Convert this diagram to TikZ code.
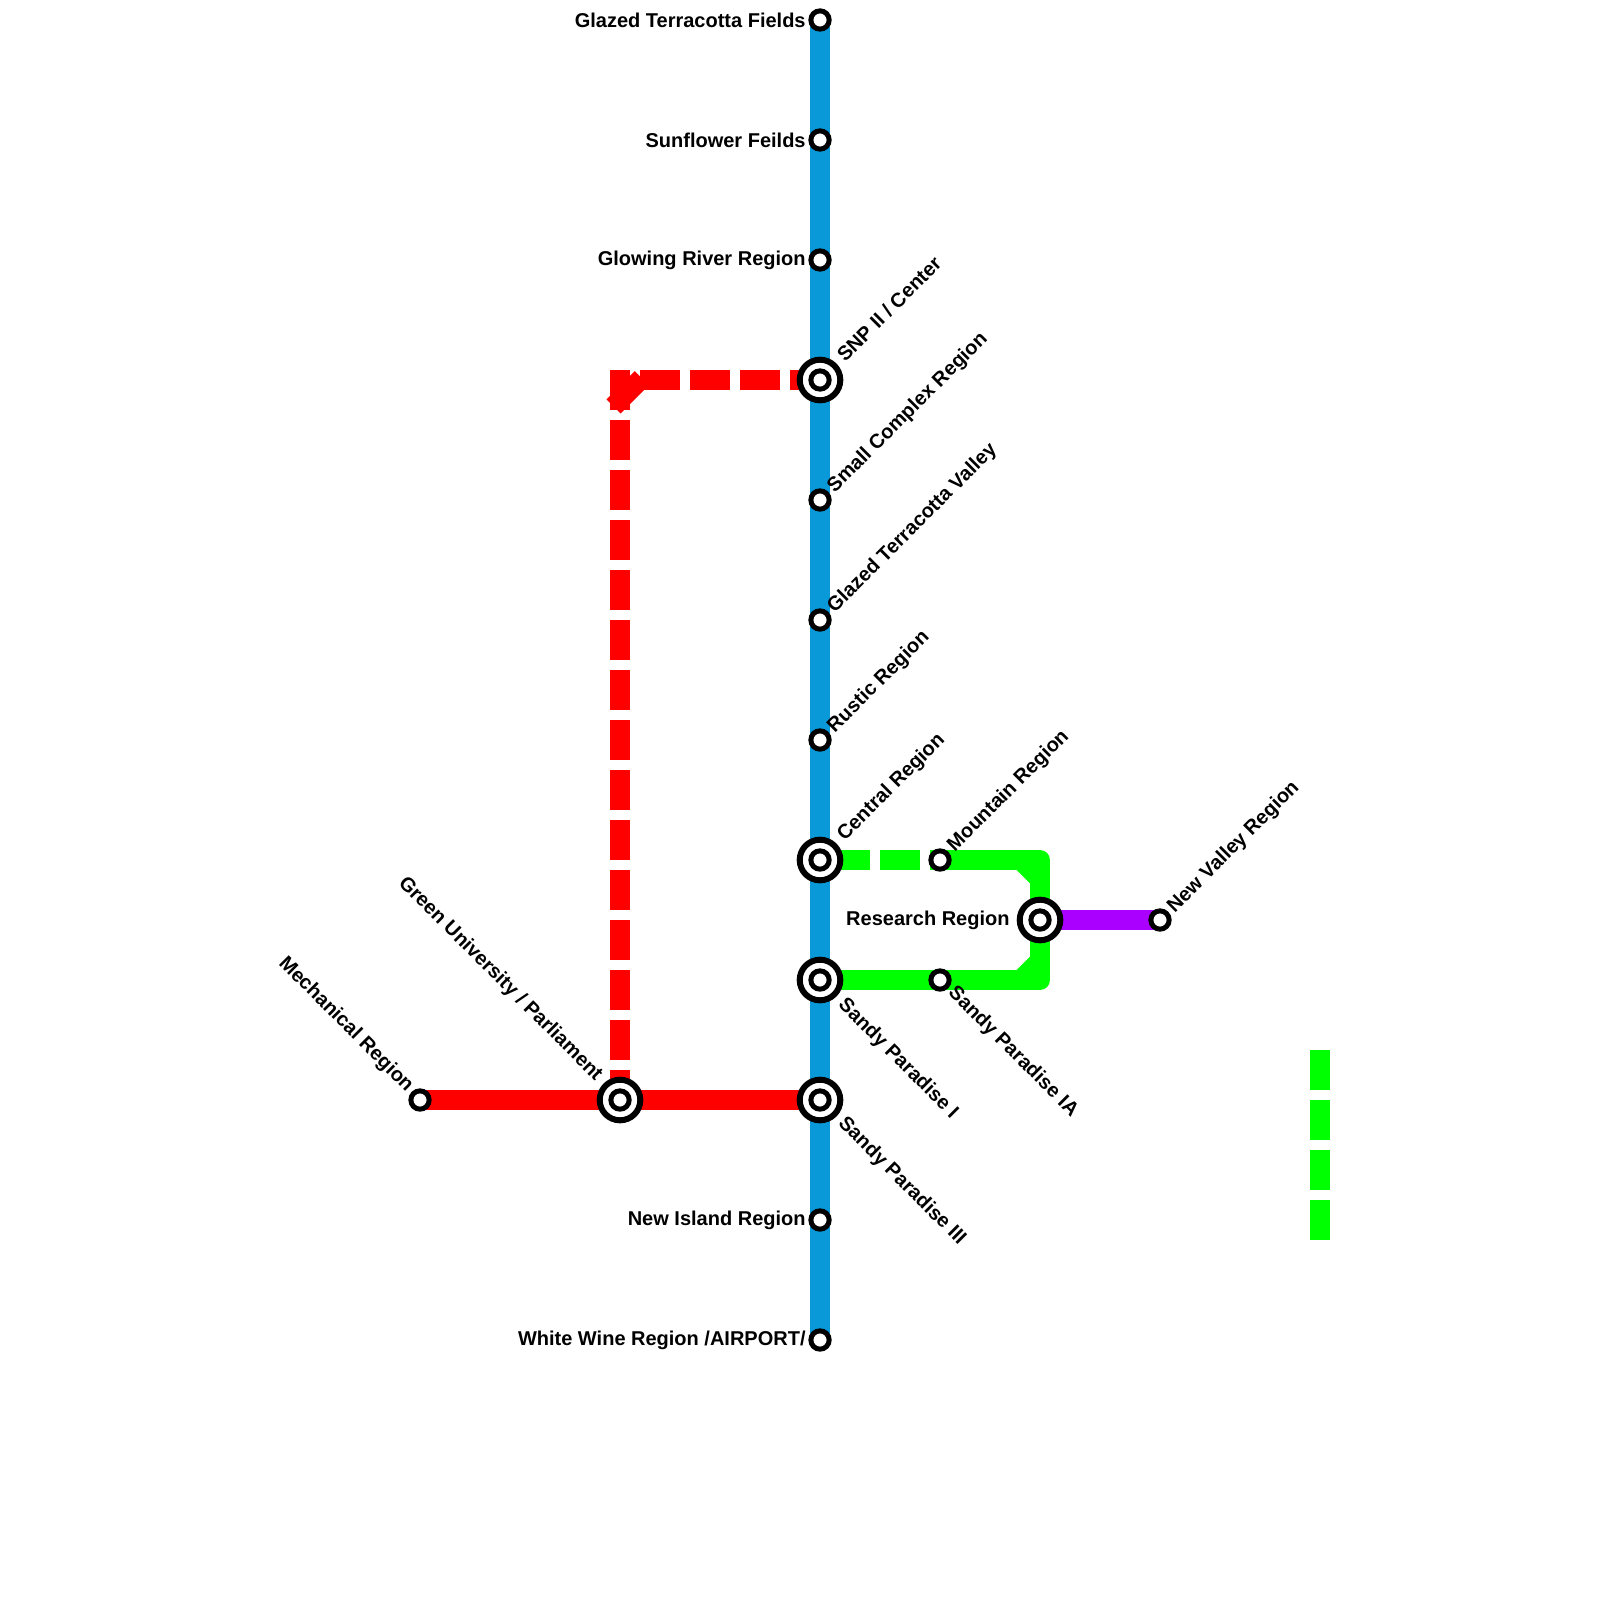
\documentclass[tikz,border=0pt]{standalone}
\usepackage{fontspec}
\setmainfont{Liberation Sans}
\definecolor{lblue}{HTML}{0998D8}
\definecolor{lred}{HTML}{FF0000}
\definecolor{lgreen}{HTML}{00FF00}
\definecolor{lpurple}{HTML}{AA00FF}
\tikzset{
  trunk/.style={line width=10pt,line cap=butt,line join=round},
  dashline/.style={trunk,dash pattern=on 20pt off 5pt},
  smallst/.style={circle,draw=black,fill=white,line width=2.5pt,minimum size=9.15pt,inner sep=0pt,outer sep=0pt},
  bigst/.style={circle,draw=black,fill=white,line width=3pt,minimum size=20.3pt,inner sep=0pt,outer sep=0pt},
  lab/.style={font=\bfseries\fontsize{10}{12}\selectfont,inner sep=0pt,text=black},
  ur/.style={lab,rotate=45,anchor=west},
  dr/.style={lab,rotate=-45,anchor=west},
  ul/.style={lab,rotate=-45,anchor=east},
  lf/.style={lab,anchor=east},
}
\begin{document}
\begin{tikzpicture}[x=0.5pt,y=-0.5pt]
\useasboundingbox (0,0) rectangle (1600,1600);
\fill[white] (0,0) rectangle (1600,1600);
% anchors
\coordinate (s1) at (820,20);
\coordinate (s2) at (820,140);
\coordinate (s3) at (820,260);
\coordinate (s4) at (820,380);
\coordinate (s5) at (820,500);
\coordinate (s6) at (820,620);
\coordinate (s7) at (820,740);
\coordinate (s8) at (820,860);
\coordinate (s9) at (820,980);
\coordinate (s10) at (820,1100);
\coordinate (s11) at (820,1220);
\coordinate (s12) at (820,1340);
\coordinate (gu) at (620,1100);
\coordinate (me) at (420,1100);
\coordinate (mo) at (940,860);
\coordinate (ia) at (940,980);
\coordinate (re) at (1040,920);
\coordinate (nv) at (1160,920);
\coordinate (c1) at (1040,860);
\coordinate (c2) at (1040,980);
\coordinate (r1) at (610,380);
\coordinate (r2) at (620,370);
\coordinate (r3) at (641.8,378.2);
\coordinate (r4) at (613.5,406.5);
\coordinate (g1) at (1320,1050);
\coordinate (g2) at (1320,1240);
% blue
\draw[trunk,lblue] (s1) -- (s12);
% red
\draw[trunk,lred] (me) -- (s10);
\draw[dashline,lred,dash phase=10pt] (r1) -- (s4);
\draw[dashline,lred] (r2) -- (gu);
\draw[trunk,lred] (r3) -- (r4);
% green
\draw[dashline,lgreen,dash phase=20pt] (s8) -- (mo);
\draw[trunk,lgreen] (mo) -- (c1) -- (re);
\fill[lgreen] (1030,870) -- (1016.7,870) -- (1030,883.3) -- cycle;
\draw[trunk,lgreen] (s9) -- (c2) -- (re);
\fill[lgreen] (1030,970) -- (1016.7,970) -- (1030,956.7) -- cycle;
\draw[dashline,lgreen] (g1) -- (g2);
% purple
\draw[trunk,lpurple] (re) -- (nv);
% stations
\foreach \p in {s1,s2,s3,s5,s6,s7,s11,s12,me,mo,ia,nv}
  \node[smallst] (st\p) at (\p) {};
\foreach \p in {s4,s8,s9,s10,gu,re}{
  \node[bigst] (st\p) at (\p) {};
  \node[smallst] (co\p) at (\p) {};
}
% labels
\node[lf] (l1) at (806,20) {Glazed Terracotta Fields};
\node[lf] (l2) at (806,140) {Sunflower Feilds};
\node[lf] (l3) at (806,260) {Glowing River Region};
\node[ur] (l4) at (840,358) {SNP II / Center};
\node[ur] (l5) at (831,490) {Small Complex Region};
\node[ur] (l6) at (831,610) {Glazed Terracotta Valley};
\node[ur] (l7) at (831,730) {Rustic Region};
\node[ur] (l8) at (841,838) {Central Region};
\node[ur] (l8b) at (951,849) {Mountain Region};
\node[ur] (l9) at (1171,910) {New Valley Region};
\node[lf] (l10) at (1010,920) {Research Region};
\node[dr] (l11) at (841,1002) {Sandy Paradise I};
\node[dr] (l12) at (951,990) {Sandy Paradise IA};
\node[dr] (l13) at (841,1120.5) {Sandy Paradise III};
\node[ul] (l14) at (599,1078) {Green University / Parliament};
\node[ul] (l15) at (410,1089) {Mechanical Region};
\node[lf] (l16) at (806,1220) {New Island Region};
\node[lf] (l17) at (806,1340) {White Wine Region /AIRPORT/};
\end{tikzpicture}
\end{document}
